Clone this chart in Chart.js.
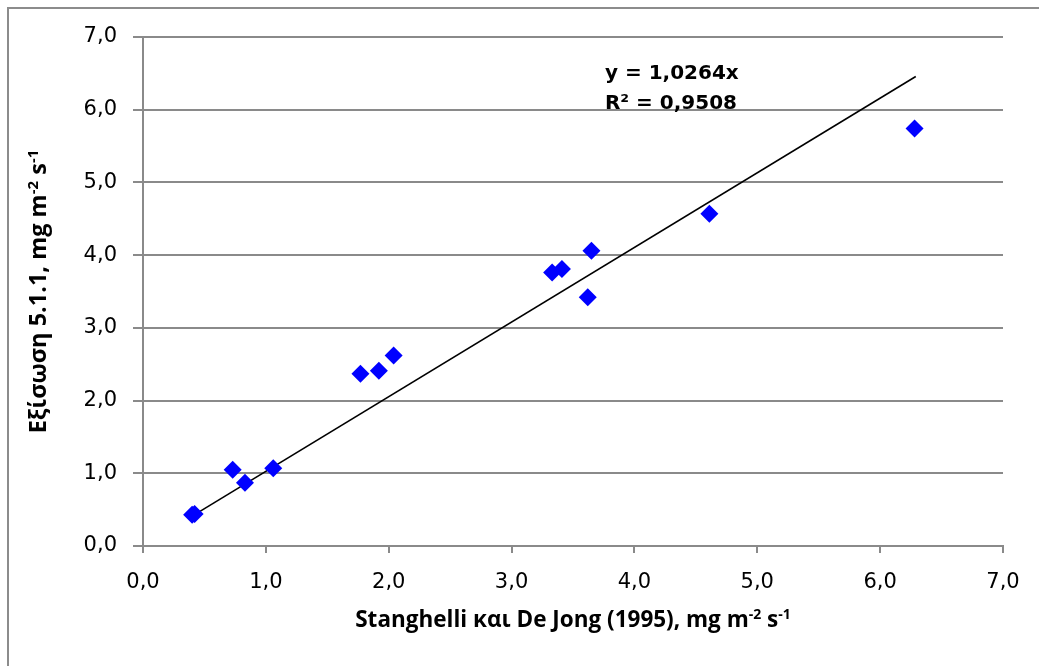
<!DOCTYPE html>
<html>
<head>
<meta charset="utf-8">
<script src="https://cdn.jsdelivr.net/npm/chart.js@4.4.1/dist/chart.umd.min.js"></script>
<style>
	html, body { margin: 0; padding: 0; background: #fff; }
	#wrap { width: 1039px; height: 666px; position: relative; }
</style>
</head>
<body>
<div id="wrap"><canvas id="scatterChart" width="1039" height="666"></canvas></div>
<script>
// data
var xValues = [0.40, 0.42, 0.73, 0.83, 1.06, 1.77, 1.92, 2.04, 3.33, 3.41, 3.62, 3.65, 4.61, 6.28];
var yValues = [0.43, 0.44, 1.05, 0.87, 1.07, 2.37, 2.41, 2.62, 3.76, 3.81, 3.42, 4.06, 4.57, 5.74];

// trendline y = a*x, drawn over the range of the points
var slope = 1.0264;
var trendFrom = 0.40;
var trendTo = 6.29;
var equationText = 'y = 1,0264x';
var r2Text = 'R² = 0,9508';

var axisMin = 0;
var axisMax = 7;
var axisStep = 1;

var xTitle = [{t: 'Stanghelli και De Jong (1995), mg m'}, {t: '-2', sup: true}, {t: ' s'}, {t: '-1', sup: true}];
var yTitle = [{t: 'Εξίσωση 5.1.1, mg m'}, {t: '-2', sup: true}, {t: ' s'}, {t: '-1', sup: true}];

(function () {
	var points = xValues.map(function (x, i) {
		return {x: x, y: yValues[i]};
	});
	var trend = [trendFrom, trendTo].map(function (x) {
		return {x: x, y: slope * x};
	});

	var greyLine = '#8a8a8a';

	function fmt(v) {
		return v.toFixed(1).replace('.', ',');
	}

	// text with superscripts, centred on (0,0) of the current transform
	function drawRich(ctx, parts, size) {
		var mainFont = 'bold ' + size + 'px "Open Sans"';
		var supFont = 'bold ' + Math.round(size * 0.62) + 'px "Open Sans"';
		var w = 0;
		parts.forEach(function (p) {
			ctx.font = p.sup ? supFont : mainFont;
			p.w = ctx.measureText(p.t).width;
			w += p.w;
		});
		var x = -w / 2;
		ctx.textBaseline = 'alphabetic';
		ctx.textAlign = 'left';
		parts.forEach(function (p) {
			ctx.font = p.sup ? supFont : mainFont;
			ctx.fillText(p.t, x, p.sup ? 0 : 8);
			x += p.w;
		});
	}

	var decorations = {
		id: 'decorations',
		beforeDraw: function (chart) {
			var ctx = chart.ctx;
			ctx.save();
			ctx.fillStyle = '#fff';
			ctx.fillRect(0, 0, chart.width, chart.height);
			ctx.strokeStyle = '#8c8c8c';
			ctx.lineWidth = 2;
			ctx.strokeRect(8, 8, chart.width + 20, chart.height + 20);
			ctx.restore();
		},
		afterDraw: function (chart) {
			var ctx = chart.ctx;
			var area = chart.chartArea;
			var xs = chart.scales.x;
			var ys = chart.scales.y;
			ctx.save();
			ctx.fillStyle = '#000';

			// axis titles
			ctx.save();
			ctx.translate((area.left + area.right) / 2, 619);
			drawRich(ctx, xTitle, 22.5);
			ctx.restore();

			ctx.save();
			ctx.translate(38, (area.top + area.bottom) / 2);
			ctx.rotate(-Math.PI / 2);
			drawRich(ctx, yTitle, 23.5);
			ctx.restore();

			// trendline label
			ctx.font = 'bold 20px "DejaVu Sans"';
			ctx.textAlign = 'left';
			ctx.textBaseline = 'middle';
			var lx = xs.getPixelForValue(3.76);
			ctx.fillText(equationText, lx, ys.getPixelForValue(6.5));
			ctx.fillText(r2Text, lx, ys.getPixelForValue(6.08));
			ctx.restore();
		}
	};

	var ctx = document.getElementById('scatterChart').getContext('2d');
	var chart = new Chart(ctx, {
		type: 'scatter',
		data: {
			datasets: [{
				label: 'data',
				data: points,
				pointStyle: 'rectRot',
				pointRadius: 9,
				backgroundColor: '#0000ff',
				borderColor: '#0000ff',
				borderWidth: 0,
				order: 1
			}, {
				type: 'line',
				label: 'trend',
				data: trend,
				borderColor: '#000',
				borderWidth: 1.6,
				pointRadius: 0,
				fill: false,
				order: 2
			}]
		},
		options: {
			responsive: false,
			animation: false,
			layout: {padding: {top: 37, right: 36, left: 0, bottom: 0}},
			plugins: {
				legend: {display: false},
				tooltip: {enabled: false}
			},
			scales: {
				x: {
					type: 'linear',
					min: axisMin,
					max: axisMax,
					afterFit: function (scale) { scale.height = 120; },
					ticks: {
						stepSize: axisStep,
						callback: fmt,
						color: '#000',
						font: {family: 'DejaVu Sans', size: 21},
						padding: 17,
						maxRotation: 0
					},
					grid: {
						drawOnChartArea: false,
						drawTicks: true,
						tickLength: 7,
						color: greyLine,
						lineWidth: 2
					},
					border: {display: true, color: greyLine, width: 2}
				},
				y: {
					type: 'linear',
					min: axisMin,
					max: axisMax,
					afterFit: function (scale) { scale.width = 143; },
					ticks: {
						stepSize: axisStep,
						callback: fmt,
						color: '#000',
						font: {family: 'DejaVu Sans', size: 21},
						padding: 16
					},
					grid: {
						drawTicks: true,
						tickLength: 10,
						color: greyLine,
						lineWidth: 2
					},
					border: {display: true, color: greyLine, width: 2}
				}
			}
		},
		plugins: [decorations]
	});
})()
</script>
</body>
</html>
